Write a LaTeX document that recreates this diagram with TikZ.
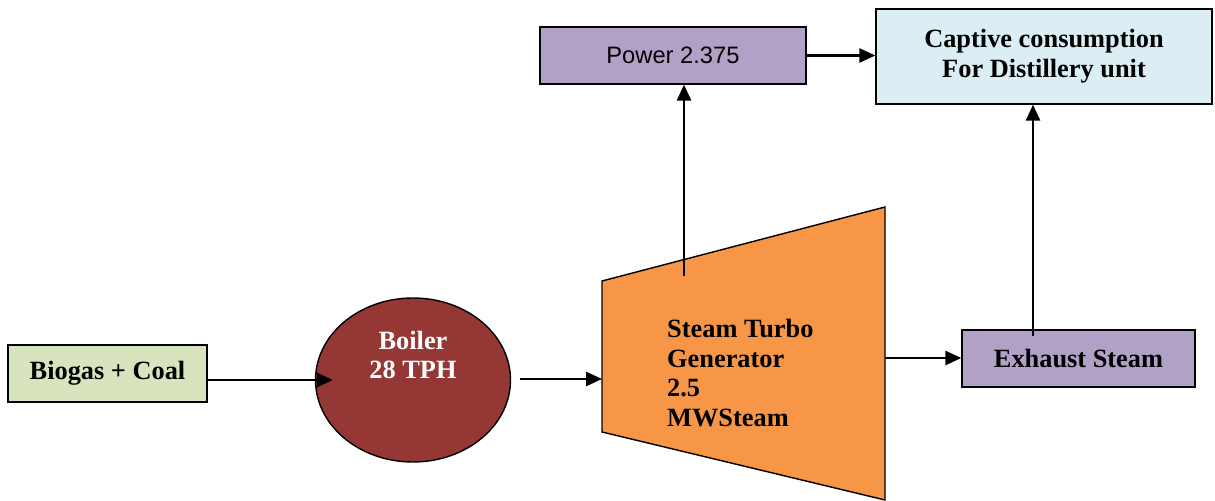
\documentclass[tikz,border=0pt]{standalone}
\usepackage{fontspec}
\setmainfont{Liberation Serif}
\newfontfamily\arialfont{Liberation Sans}
\usetikzlibrary{arrows.meta,shapes.geometric}
\definecolor{leaf}{HTML}{D7E4BD}
\definecolor{brick}{HTML}{953735}
\definecolor{amber}{HTML}{F79646}
\definecolor{lilac}{HTML}{B2A1C7}
\definecolor{ice}{HTML}{DBEEF3}

\begin{document}
\begin{tikzpicture}[>={Triangle[length=9pt,width=8pt]},
  font=\fontsize{15}{17}\selectfont\bfseries,
  blockbox/.style={draw=black, line width=0.8pt, inner sep=2pt, align=center},
  flow/.style={->, line width=1.2pt}]
\useasboundingbox (0,0) rectangle (24.3,10.02);
% fuel and boiler
\node[blockbox, fill=leaf, minimum width=3.98cm, minimum height=1.14cm] (biogas) at (2.15,2.55) {Biogas + Coal};
\node[ellipse, draw=black, line width=0.8pt, fill=brick, minimum width=3.9cm, minimum height=3.28cm] (boiler) at (8.26,2.42) {};
\node[text=white, align=center] (boilertxt) at (8.26,2.92) {Boiler\\28 TPH};
\draw[flow, shorten >=-0.36cm] (biogas.east |- boiler.west) -- (boiler.west);
% turbo generator
\draw[fill=amber, line width=0.8pt] (12.04,4.40) -- (17.70,5.88) -- (17.70,0.02) -- (12.04,1.38) -- cycle;
\coordinate (stgin) at (12.04,2.44);
\coordinate (stgout) at (17.70,2.86);
\coordinate (stgtop) at (13.68,4.50);
\node[anchor=west, align=left] (stg) at (13.22,2.56) {Steam Turbo\\Generator\\2.5\\MWSteam};
\draw[flow, shorten <=0.18cm] (boiler.east |- stgin) -- (stgin);
% outputs
\node[blockbox, fill=lilac, minimum width=5.32cm, minimum height=1.14cm, font=\fontsize{13.5}{16}\selectfont\arialfont] (power) at (13.46,8.91) {Power 2.375};
\node[blockbox, fill=ice, minimum width=6.72cm, minimum height=1.90cm] (captive) at (20.88,8.89) {Captive consumption\\For Distillery unit};
\node[blockbox, fill=lilac, minimum width=4.66cm, minimum height=1.14cm] (exhaust) at (21.57,2.85) {Exhaust Steam};
\coordinate (exup) at (20.66,3.30);
\draw[flow] (stgtop) -- (stgtop |- power.south);
\draw[flow] (power.east) -- (power.east -| captive.west);
\draw[flow] (stgout) -- (stgout -| exhaust.west);
\draw[flow] (exup) -- (exup |- captive.south);
\end{tikzpicture}
\end{document}
